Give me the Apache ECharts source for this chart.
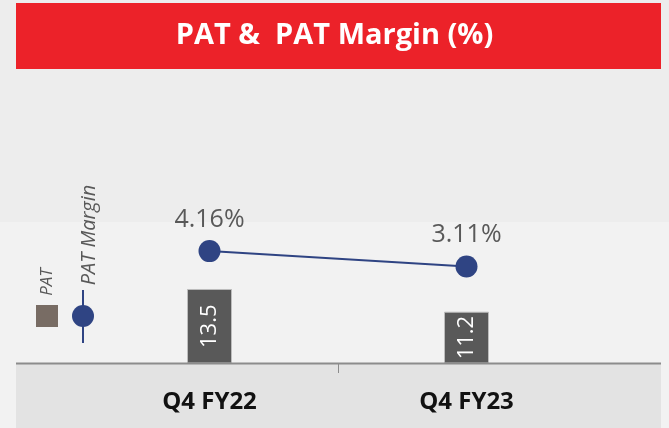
<!DOCTYPE html>
<html>
<head>
<meta charset="utf-8">
<script src="https://cdn.jsdelivr.net/npm/echarts@6/dist/echarts.min.js"></script>
<style>
  html, body { margin: 0; padding: 0; background: #ededed; }
  #patChart { width: 669px; height: 428px; }
</style>
</head>
<body>
<div id="patChart"></div>
<script>
var categories = ['Q4 FY22', 'Q4 FY23']
var patValues = [13.5, 11.2]
var marginValues = [4.16, 3.11]

var chart = echarts.init(document.getElementById('patChart'))
var font = 'Open Sans'
var navy = '#2f4483'

var option = {
  backgroundColor: '#ededed',
  animation: false,
  title: {
    text: 'PAT &  PAT Margin (%)',
    left: 'center',
    top: 16,
    textStyle: {
      color: '#fff',
      fontFamily: font,
      fontWeight: 'bold',
      fontSize: 29
    }
  },
  graphic: [
    // panels
    { type: 'rect', z: -10, shape: { x: 0, y: 222, width: 669, height: 206 }, style: { fill: '#f2f2f2' } },
    { type: 'rect', z: -9, shape: { x: 16, y: 364, width: 645, height: 64 }, style: { fill: '#e3e3e3' } },
    { type: 'rect', z: -9, shape: { x: 16, y: 3, width: 645, height: 66 }, style: { fill: '#ec2229' } },
    { type: 'line', z: 5, shape: { x1: 16, y1: 363.5, x2: 661, y2: 363.5 }, style: { stroke: '#8c8c8c', lineWidth: 2 } },
    { type: 'line', z: 5, shape: { x1: 338.5, y1: 364, x2: 338.5, y2: 373 }, style: { stroke: '#8c8c8c', lineWidth: 1 } },
    // rotated legend
    { type: 'rect', shape: { x: 36, y: 305, width: 22, height: 22 }, style: { fill: '#786c64' } },
    {
      type: 'text', x: 47, y: 282, rotation: Math.PI / 2,
      style: { text: 'PAT', fill: '#595959', fontFamily: font, fontStyle: 'italic', fontSize: 17, align: 'center', verticalAlign: 'middle' }
    },
    { type: 'line', shape: { x1: 83, y1: 290, x2: 83, y2: 343 }, style: { stroke: navy, lineWidth: 2 } },
    { type: 'circle', shape: { cx: 83, cy: 316, r: 11 }, style: { fill: navy } },
    {
      type: 'text', x: 89, y: 235, rotation: Math.PI / 2,
      style: { text: 'PAT Margin', fill: '#595959', fontFamily: font, fontStyle: 'italic', fontSize: 20, align: 'center', verticalAlign: 'middle' }
    }
  ],
  grid: {
    left: 81,
    right: 74,
    top: 103,
    bottom: 65
  },
  xAxis: {
    type: 'category',
    data: categories,
    axisLine: { show: false },
    axisTick: { show: false },
    axisLabel: {
      color: '#111',
      fontFamily: font,
      fontWeight: 'bold',
      fontSize: 24,
      margin: 27
    }
  },
  yAxis: [
    { type: 'value', min: 6, max: 32.35, show: false, splitLine: { show: false } },
    { type: 'value', min: -3.5, max: 14.3, show: false, splitLine: { show: false } }
  ],
  series: [
    {
      name: 'PAT',
      type: 'bar',
      yAxisIndex: 0,
      barWidth: 45,
      data: patValues,
      itemStyle: {
        color: '#595959',
        borderColor: '#bdbdbd',
        borderWidth: 1
      },
      label: {
        show: true,
        position: 'inside',
        rotate: 90,
        color: '#fff',
        fontFamily: font,
        fontSize: 22
      }
    },
    {
      name: 'PAT Margin',
      type: 'line',
      yAxisIndex: 1,
      data: marginValues,
      symbol: 'circle',
      symbolSize: 22,
      lineStyle: { color: navy, width: 2 },
      itemStyle: { color: navy },
      label: {
        show: true,
        position: 'top',
        distance: 8,
        color: '#595959',
        fontFamily: font,
        fontSize: 25,
        formatter: function (p) {
          return p.value.toFixed(2) + '%'
        }
      }
    }
  ]
}

chart.setOption(option)
</script>
</body>
</html>
